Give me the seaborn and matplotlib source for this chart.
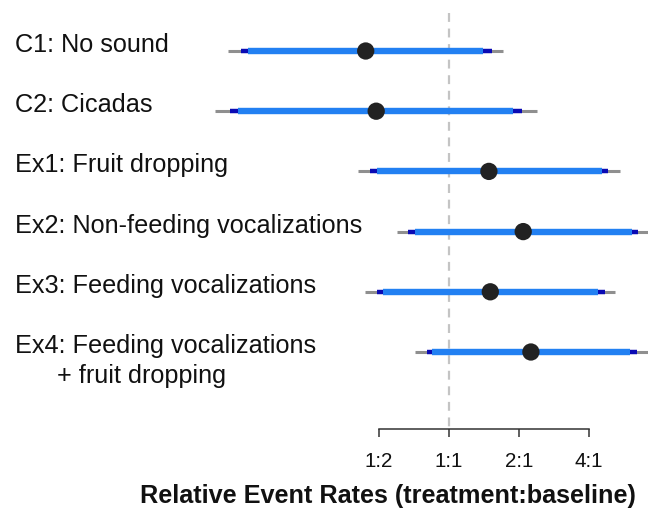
import numpy as np
import pandas as pd
import matplotlib
matplotlib.use("Agg")
import matplotlib.pyplot as plt
import seaborn as sns

# treatments, top to bottom
labels = ["C1: No sound", "C2: Cicadas", "Ex1: Fruit dropping",
          "Ex2: Non-feeding vocalizations", "Ex3: Feeding vocalizations",
          "Ex4: Feeding vocalizations\n      + fruit dropping"]

# log2 rate ratios (treatment:baseline)
estimate = [-1.19, -1.04, 0.57, 1.06, 0.59, 1.17]
outer_lo = [-3.16, -3.34, -1.30, -0.74, -1.20, -0.49]
outer_hi = [0.77, 1.26, 2.44, 2.92, 2.37, 2.84]
mid_lo = [-2.97, -3.13, -1.13, -0.59, -1.03, -0.31]
mid_hi = [0.61, 1.04, 2.27, 2.70, 2.23, 2.69]
inner_lo = [-2.87, -3.01, -1.03, -0.49, -0.94, -0.24]
inner_hi = [0.49, 0.91, 2.19, 2.61, 2.13, 2.59]

tick_pos = [-1, 0, 1, 2]
tick_labels = ["1:2", "1:1", "2:1", "4:1"]

df = pd.DataFrame({"label": labels, "row": range(len(labels)), "est": estimate,
                   "olo": outer_lo, "ohi": outer_hi, "mlo": mid_lo, "mhi": mid_hi,
                   "ilo": inner_lo, "ihi": inner_hi})

sns.set_style("white")
plt.rcParams["font.family"] = ["Liberation Sans", "DejaVu Sans"]

fig = plt.figure(figsize=(6.48, 5.10), dpi=100)
ax = fig.add_axes([0, 1 - 430 / 510, 1, 430 / 510])

# reference line at 1:1
ax.vlines(0, -0.63, 6.3, color="#c4c4c4", lw=1.6, linestyles=(0, (4, 3)), zorder=1)

ax.hlines(df["row"], df["olo"], df["ohi"], color="#8f8f8f", lw=2.2, zorder=2)
ax.hlines(df["row"], df["mlo"], df["mhi"], color="#0a0ab4", lw=3.2, zorder=3)
ax.hlines(df["row"], df["ilo"], df["ihi"], color="#2280f2", lw=4.6, zorder=4)
sns.scatterplot(data=df, x="est", y="row", ax=ax, s=155, color="#222222",
                edgecolor="none", zorder=5, legend=False)

# row labels, one text per line so each baseline sits where it should
for r, lab in zip(df["row"], df["label"]):
    for k, line in enumerate(lab.split("\n")):
        ax.text(15 / 648, r + k * 30 / 60.2, line, transform=ax.get_yaxis_transform(),
                ha="left", va="baseline", fontsize=18.2, color="#111111")

ax.set_xlim(-449 / 70, 199 / 70)
ax.set_ylim((430 - 52) / 60.2, -52 / 60.2)
ax.set_xticks(tick_pos)
ax.set_xticklabels(tick_labels, fontsize=14.8, color="#111111")
ax.set_yticks([])
ax.set_xlabel("")
ax.set_ylabel("")
for side in ["top", "left", "right"]:
    ax.spines[side].set_visible(False)
ax.spines["bottom"].set_bounds(-1, 2)
ax.spines["bottom"].set_color("#333333")
ax.spines["bottom"].set_linewidth(1.1)
ax.tick_params(axis="x", bottom=True, direction="out", length=6, width=1.1,
               color="#333333", pad=10)

fig.text(388 / 648, 1 - 503 / 510, "Relative Event Rates (treatment:baseline)",
         ha="center", va="baseline", fontsize=18.2, fontweight="bold", color="#111111")

fig.savefig("out.png", dpi=100)
